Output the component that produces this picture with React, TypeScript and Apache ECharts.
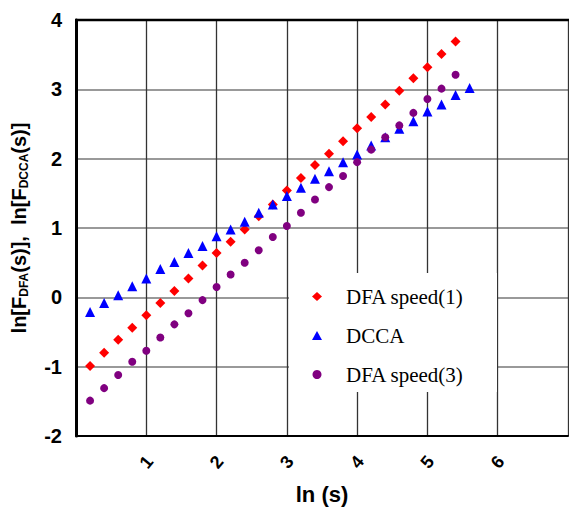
import React, { useEffect, useRef } from "react";
import * as echarts from "echarts";

const xDCCA = [0.2, 0.4, 0.6, 0.8, 1.0, 1.2, 1.4, 1.6, 1.8, 2.0, 2.2, 2.4, 2.6, 2.8, 3.0, 3.2, 3.4, 3.6, 3.8, 4.0, 4.2, 4.4, 4.6, 4.8, 5.0, 5.2, 5.4, 5.6];
const xDFA = [0.2, 0.4, 0.6, 0.8, 1.0, 1.2, 1.4, 1.6, 1.8, 2.0, 2.2, 2.4, 2.6, 2.8, 3.0, 3.2, 3.4, 3.6, 3.8, 4.0, 4.2, 4.4, 4.6, 4.8, 5.0, 5.2, 5.4];

const dfaSpeed1 = [-0.99, -0.8, -0.61, -0.44, -0.26, -0.08, 0.09, 0.27, 0.46, 0.64, 0.8, 0.98, 1.17, 1.34, 1.54, 1.72, 1.91, 2.07, 2.25, 2.44, 2.6, 2.78, 2.98, 3.16, 3.32, 3.51, 3.69];
const dcca = [-0.21, -0.08, 0.03, 0.16, 0.27, 0.41, 0.51, 0.64, 0.74, 0.88, 0.98, 1.09, 1.22, 1.34, 1.46, 1.58, 1.71, 1.82, 1.95, 2.06, 2.19, 2.31, 2.43, 2.54, 2.68, 2.78, 2.92, 3.02];
const dfaSpeed3 = [-1.49, -1.31, -1.12, -0.93, -0.77, -0.58, -0.39, -0.23, -0.04, 0.15, 0.33, 0.5, 0.68, 0.87, 1.03, 1.22, 1.41, 1.59, 1.75, 1.95, 2.13, 2.31, 2.48, 2.66, 2.86, 3.01, 3.21];

const seriesNames = ["DFA speed(1)", "DCCA", "DFA speed(3)"];
const xTickLabels = ["1", "2", "3", "4", "5", "6"];

const SANS = "'Liberation Sans', Arial, sans-serif";
const SERIF = "'Liberation Serif', 'Times New Roman', serif";

export default function App() {
  const ref = useRef<HTMLDivElement>(null);
  useEffect(() => {
    if (!ref.current) return;
    const chart = echarts.init(ref.current, undefined, { renderer: "svg" });
    const zip = (xs: number[], ys: number[]) => ys.map((y, i) => [xs[i], y]);
    chart.setOption({
      animation: false,
      backgroundColor: "#fff",
      grid: { left: 76, right: 1, top: 20, bottom: 73 },
      xAxis: {
        type: "value",
        min: 0,
        max: 7,
        interval: 1,
        name: "ln (s)",
        nameLocation: "middle",
        nameGap: 47,
        nameTextStyle: { fontFamily: SANS, fontWeight: "bold", fontSize: 22, color: "#000" },
        axisLine: { show: true, onZero: false, lineStyle: { color: "#000", width: 2 } },
        axisTick: { show: false },
        axisLabel: {
          rotate: 50,
          margin: 26,
          align: "center",
          verticalAlign: "middle",
          fontFamily: SANS,
          fontWeight: "bold",
          fontSize: 18,
          color: "#000",
          showMinLabel: false,
          showMaxLabel: false,
          formatter: (v: number) => (xTickLabels.includes(String(v)) ? String(v) : ""),
        },
        splitLine: { show: true, lineStyle: { color: "#333", width: 1.3 } },
      },
      yAxis: {
        type: "value",
        min: -2,
        max: 4,
        interval: 1,
        name: "ln[F{sub|DFA}(s)],  ln[F{sub|DCCA}(s)]",
        nameLocation: "middle",
        nameRotate: 90,
        nameGap: 46,
        nameTextStyle: {
          fontFamily: SANS,
          fontWeight: "bold",
          fontSize: 20,
          color: "#000",
          rich: {
            sub: { fontFamily: SANS, fontWeight: "bold", fontSize: 12, color: "#000", padding: [10, 0, 0, 0] },
          },
        },
        axisLine: { show: true, onZero: false, lineStyle: { color: "#000", width: 3 } },
        axisTick: { show: false },
        axisLabel: { margin: 14, fontFamily: SANS, fontWeight: "bold", fontSize: 20, color: "#000" },
        splitLine: { show: true, lineStyle: { color: "#777", width: 1.5 } },
      },
      graphic: [
        { type: "line", z: 6, shape: { x1: 75, y1: 20, x2: 569, y2: 20 }, style: { stroke: "#000", lineWidth: 2.5 } },
        { type: "rect", z: 5, shape: { x: 289, y: 273, width: 208, height: 119 }, style: { fill: "#fff" } },
      ],
      legend: {
        orient: "vertical",
        left: 307,
        top: 281,
        z: 10,
        itemWidth: 10,
        itemHeight: 9,
        itemGap: 18,
        textStyle: { fontFamily: SERIF, fontSize: 21, color: "#000", padding: [0, 0, 0, 19] },
        data: seriesNames,
      },
      series: [
        {
          name: seriesNames[0],
          type: "scatter",
          symbol: "diamond",
          symbolSize: 10,
          itemStyle: { color: "#ff0000", opacity: 1 },
          data: zip(xDFA, dfaSpeed1),
        },
        {
          name: seriesNames[1],
          type: "scatter",
          symbol: "triangle",
          symbolSize: 10,
          itemStyle: { color: "#0000ff", opacity: 1 },
          data: zip(xDCCA, dcca),
        },
        {
          name: seriesNames[2],
          type: "scatter",
          symbol: "circle",
          symbolSize: 8,
          itemStyle: { color: "#800080", opacity: 1 },
          data: zip(xDFA, dfaSpeed3),
        },
      ],
    });
    return () => chart.dispose();
  }, []);
  return (
    <div
      ref={ref}
      style={{ position: "absolute", left: 0, top: 0, width: 569, height: 510, background: "#fff" }}
    />
  );
}
